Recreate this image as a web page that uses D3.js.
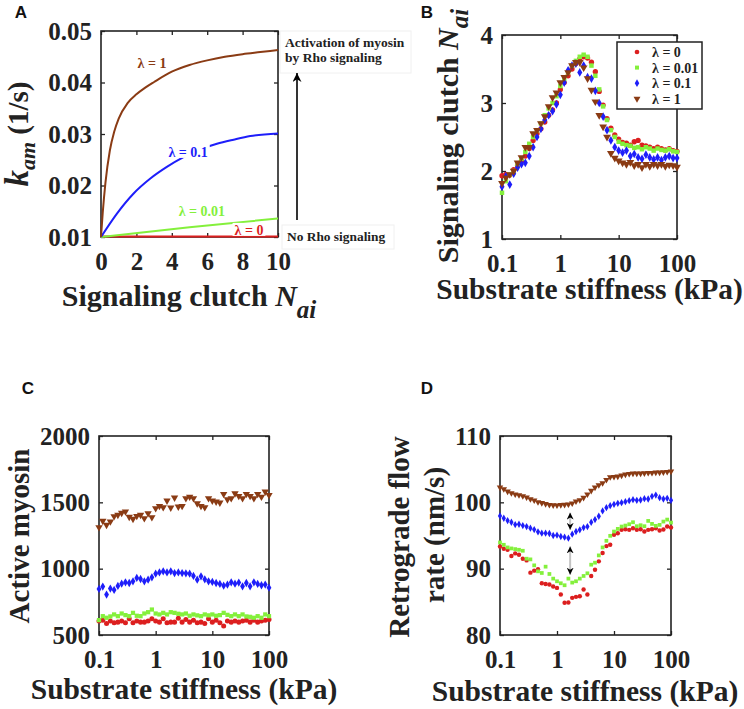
<!DOCTYPE html>
<html>
<head>
<meta charset="utf-8">
<script src="https://cdn.jsdelivr.net/npm/d3@7"></script>
<style>
  body { margin: 0; background: #fff; }
  svg text { font-family: "Liberation Serif", "Times New Roman", serif; font-weight: bold; fill: #222; }
  svg text.plabel { font-family: "Liberation Sans", Arial, sans-serif; fill: #111; }
</style>
</head>
<body>
<script>
// ---- panel A: k_am vs signaling clutch N_ai ----
var nLam1 = [0, 0.1, 0.25, 0.5, 0.75, 1, 1.5, 2, 2.5, 3, 4, 5, 6, 7, 8, 9, 10];
var kamLam1 = [0.0100, 0.0148, 0.0205, 0.0268, 0.0305, 0.0330, 0.0360, 0.0377, 0.0390, 0.0401, 0.0421, 0.0434, 0.0443, 0.0450, 0.0455, 0.0459, 0.0463];
var nLam01 = [0, 0.89, 1.83, 2.77, 3.72, 4.66, 5.6, 6.55, 7.49, 8.43, 10];
var kamLam01 = [0.0100, 0.0145, 0.0184, 0.0213, 0.0236, 0.0255, 0.0270, 0.0281, 0.0289, 0.0296, 0.0301];
var nLam001 = [0, 5, 10];
var kamLam001 = [0.0100, 0.0119, 0.0136];
var nLam0 = [0, 10];
var kamLam0 = [0.0101, 0.0101];

var lambdaLabels = ["\u03bb = 0", "\u03bb = 0.01", "\u03bb = 0.1", "\u03bb = 1"];

// ---- substrate stiffness grid (kPa) shared by B, C, D ----
var stiffness = [0.1, 0.1166, 0.1359, 0.1585, 0.1848, 0.2154, 0.2512, 0.2929, 0.3415, 0.3981,
  0.4642, 0.5412, 0.631, 0.7356, 0.8577, 1, 1.166, 1.359, 1.585, 1.848,
  2.154, 2.512, 2.929, 3.415, 3.981, 4.642, 5.412, 6.31, 7.356, 8.577,
  10, 11.66, 13.59, 15.85, 18.48, 21.54, 25.12, 29.29, 34.15, 39.81,
  46.42, 54.12, 63.1, 73.56, 85.77, 100];

// ---- panel B: signaling clutch N_ai ----
var clutchLam0 = [1.93, 1.95, 1.94, 2.02, 2.08, 2.15, 2.22, 2.33, 2.45, 2.55, 2.62, 2.72, 2.82, 2.90, 3.0, 3.2, 3.3, 3.4, 3.5, 3.58, 3.65, 3.68,
  3.66, 3.6, 3.46, 3.17, 2.97, 2.77, 2.63, 2.53, 2.47,
  2.42, 2.41, 2.38, 2.43, 2.45, 2.38, 2.37, 2.35, 2.33, 2.35, 2.33, 2.31, 2.33, 2.30, 2.29];
var clutchLam001 = [1.68, 1.85, 1.95, 2.0, 2.1, 2.18, 2.28, 2.4, 2.5, 2.6, 2.7, 2.82, 2.92, 3.0, 3.1, 3.25, 3.35, 3.45, 3.55, 3.62, 3.68, 3.71,
  3.68, 3.55, 3.4, 3.2, 2.95, 2.75, 2.6, 2.5, 2.43,
  2.4, 2.38, 2.37, 2.34, 2.35, 2.32, 2.35, 2.33, 2.3, 2.33, 2.31, 2.3, 2.32, 2.29, 2.28];
var clutchLam01 = [1.77, 1.92, 1.8, 1.96, 2.05, 2.1, 2.12, 2.22, 2.35, 2.5, 2.62, 2.75, 2.82, 2.88, 2.98, 3.12, 3.3, 3.48, 3.55, 3.58, 3.45, 3.55,
  3.38, 3.36, 3.18, 3.0, 2.8, 2.6, 2.45, 2.35, 2.3,
  2.27, 2.3, 2.22, 2.25, 2.2, 2.18, 2.24, 2.2, 2.17, 2.2, 2.16, 2.2, 2.22, 2.19, 2.19];
var clutchLam1 = [1.82, 1.9, 1.95, 2.0, 2.12, 2.2, 2.35, 2.35, 2.55, 2.6, 2.7, 2.8, 2.95, 3.08, 3.15, 3.3, 3.38, 3.45, 3.55, 3.6, 3.6, 3.52,
  3.36, 3.19, 3.02, 2.82, 2.65, 2.5, 2.26, 2.19, 2.15,
  2.12, 2.1, 2.13, 2.08, 2.1, 2.05, 2.1, 2.07, 2.1, 2.08, 2.1, 2.07, 2.09, 2.08, 2.06];

// ---- panel C: active myosin ----
var myosinLam0 = [605, 612, 587, 605, 592, 597, 605, 592, 622, 592, 605, 597, 597, 605, 622, 605, 597, 622, 592, 597, 597, 627, 597,
  617, 597, 612, 592, 597, 587, 622, 597, 612, 592, 567, 605, 597, 605, 597, 605, 612, 597, 612, 597, 605, 612, 617];
var myosinLam001 = [612, 642, 630, 640, 655, 642, 662, 650, 642, 667, 645, 642, 662, 672, 692, 662, 655, 667, 655, 672, 667, 660, 655,
  662, 645, 655, 648, 642, 655, 648, 655, 645, 650, 667, 652, 642, 655, 642, 655, 640, 637, 630, 642, 630, 655, 642];
var myosinLam01 = [847, 865, 805, 850, 840, 870, 887, 897, 892, 905, 930, 922, 905, 917, 935, 962, 972, 980, 972, 980, 967, 972, 967,
  965, 962, 945, 917, 942, 920, 905, 900, 892, 885, 872, 880, 897, 887, 895, 867, 892, 867, 897, 885, 875, 880, 857];
var myosinLam1 = [1312, 1360, 1330, 1355, 1395, 1405, 1420, 1430, 1390, 1375, 1397, 1405, 1380, 1417, 1387, 1455, 1472, 1462, 1512, 1460, 1535, 1467, 1472,
  1530, 1542, 1530, 1492, 1472, 1462, 1530, 1512, 1505, 1497, 1562, 1522, 1530, 1567, 1547, 1530, 1562, 1547, 1530, 1562, 1542, 1580, 1555];

// ---- panel D: retrograde flow rate (nm/s) ----
var flowLam0 = [93.35, 93.0, 92.85, 91.9, 92.3, 92.1, 91.5, 91.25, 89.4, 89.7, 89.9, 87.8, 87.7, 87.6, 87.3, 87.1, 86.1, 84.85, 84.9, 85.6, 85.75, 85.85, 86.85,
  86.1, 88.9, 89.85, 91.1, 92.35, 93.4, 93.6, 95.1, 95.35, 95.85, 95.95, 95.85, 96.1, 95.85, 95.95, 95.6, 95.85, 95.95, 96.1, 95.75, 95.9, 96.35, 96.2];
var flowLam001 = [93.95, 93.6, 93.2, 93.05, 92.95, 92.85, 92.7, 91.5, 91.4, 90.5, 89.6, 89.35, 90.3, 89.2, 88.5, 88.1, 87.8, 87.5, 88.5, 87.9, 88.1, 88.5, 88.9,
  89.3, 90.6, 90.9, 92.0, 93.2, 94.2, 94.95, 95.6, 96.0, 96.35, 96.5, 96.7, 97.0, 96.4, 96.55, 96.4, 97.2, 96.75, 96.45, 96.6, 97.1, 97.4, 96.95];
var flowLam01 = [97.95, 97.6, 97.25, 97.0, 96.65, 96.7, 96.5, 96.35, 96.1, 95.9, 95.55, 95.35, 95.35, 95.3, 95.0, 95.05, 94.85, 94.75, 94.6, 95.2, 95.6, 95.85, 96.2,
  96.35, 97.0, 97.4, 97.9, 98.7, 99.2, 99.5, 99.7, 99.85, 99.95, 100.1, 100.25, 100.4, 100.3, 100.35, 100.55, 100.5, 100.9, 101.1, 100.7, 100.5, 100.6, 100.3];
var flowLam1 = [102.25, 102.0, 101.65, 101.4, 101.2, 101.1, 100.95, 100.75, 100.5, 100.3, 100.05, 99.9, 99.75, 99.62, 99.57, 99.56, 99.6, 99.64, 99.7, 99.85, 100.15, 100.35, 100.7,
  101.2, 101.75, 102.25, 102.6, 102.9, 103.4, 103.8, 103.85, 103.9, 104.05, 104.2, 104.3, 104.35, 104.35, 104.35, 104.4, 104.45, 104.45, 104.5, 104.5, 104.55, 104.6, 104.65];

var seriesColors = ["#dc1f1f", "#84f03c", "#1e1efa", "#8a3b14"];
var seriesShapes = [d3.symbolCircle, d3.symbolSquare, d3.symbolDiamond, d3.symbolTriangle];
var seriesSizes = [22, 20, 22, 26];

var svg = d3.select("body").append("svg").attr("width", 744).attr("height", 709);

// arrow heads: big one for panel A, small one for the gap arrows of D
var defs = svg.append("defs");
[["headBig", 10, 9], ["headSmall", 7, 7]].forEach(m => {
  defs.append("marker").attr("id", m[0]).attr("viewBox", "0 0 10 10")
    .attr("refX", 10).attr("refY", 5).attr("markerWidth", m[1]).attr("markerHeight", m[2])
    .attr("markerUnits", "userSpaceOnUse").attr("orient", "auto-start-reverse")
    .append("path").attr("d", "M0,0 L10,5 L0,10 L3,5 Z").attr("fill", "#000");
});

// draws a MATLAB-like boxed axes with inward ticks on all sides
function drawAxes(box, x, y, xTicks, yTicks, xFmt, yFmt) {
  var g = svg.append("g");
  g.append("g").attr("transform", `translate(0,${box.bottom})`)
    .call(d3.axisBottom(x).tickValues(xTicks).tickFormat(xFmt).tickSize(-4).tickPadding(15));
  g.append("g").attr("transform", `translate(0,${box.top})`)
    .call(d3.axisTop(x).tickValues(xTicks).tickFormat("").tickSize(-4));
  g.append("g").attr("transform", `translate(${box.left},0)`)
    .call(d3.axisLeft(y).tickValues(yTicks).tickFormat(yFmt).tickSize(-4).tickPadding(9));
  g.append("g").attr("transform", `translate(${box.right},0)`)
    .call(d3.axisRight(y).tickValues(yTicks).tickFormat("").tickSize(-4));
  g.selectAll(".domain").remove();
  g.selectAll(".tick line").attr("stroke", "#222").attr("stroke-width", 1.3);
  g.selectAll(".tick text").attr("font-size", 25);
  g.append("rect")
    .attr("x", box.left).attr("y", box.top)
    .attr("width", box.right - box.left).attr("height", box.bottom - box.top)
    .attr("fill", "none").attr("stroke", "#222").attr("stroke-width", 1.6);
  return g;
}

function scatter(x, y, values, k, scale) {
  svg.append("g").selectAll("path").data(values).enter()
    .append("path")
    .attr("d", d3.symbol().type(seriesShapes[k]).size(seriesSizes[k] * scale))
    .attr("transform", (d, i) => `translate(${x(stiffness[i])},${y(d)})` + (k == 3 ? " rotate(180)" : ""))
    .attr("fill", seriesColors[k]);
}

function panelLabel(txt, px, py) {
  svg.append("text").attr("class", "plabel").attr("x", px).attr("y", py)
    .attr("font-size", 17).attr("text-anchor", "middle").attr("dy", "0.35em").text(txt);
}

function xLabelStiffness(cx, baseline) {
  svg.append("text").attr("x", cx).attr("y", baseline).attr("text-anchor", "middle")
    .attr("font-size", 29.5).text("Substrate stiffness (kPa)");
}

// ================= Panel A =================
var boxA = {left: 101, right: 278, top: 31, bottom: 237};
var xA = d3.scaleLinear().domain([0, 10]).range([boxA.left, boxA.right]);
var yA = d3.scaleLinear().domain([0.01, 0.05]).range([boxA.bottom, boxA.top]);
drawAxes(boxA, xA, yA, [0, 2, 4, 6, 8, 10], [0.01, 0.02, 0.03, 0.04, 0.05], d3.format("d"), d3.format(".2f"));

var lineA = d3.line().x(d => xA(d[0])).y(d => yA(d[1])).curve(d3.curveMonotoneX);
[[nLam0, kamLam0], [nLam001, kamLam001], [nLam01, kamLam01], [nLam1, kamLam1]].forEach((s, k) => {
  svg.append("path").datum(d3.zip(s[0], s[1])).attr("d", lineA)
    .attr("fill", "none").attr("stroke", seriesColors[k]).attr("stroke-width", 2);
});

// curve labels sit on small white boxes (like MATLAB text with a background)
var curveLabelPos = [[8.36, 0.01136], [5.7, 0.0150], [4.92, 0.0265], [2.88, 0.0438]];
curveLabelPos.forEach((p, k) => {
  var t = svg.append("text").attr("x", xA(p[0])).attr("y", yA(p[1])).attr("dy", "0.35em")
    .attr("text-anchor", "middle").attr("font-size", 14).style("fill", seriesColors[k])
    .text(lambdaLabels[k]);
  var bb = t.node().getBBox();
  svg.insert("rect", function () { return t.node(); })
    .attr("x", bb.x - 2).attr("y", bb.y).attr("width", bb.width + 4).attr("height", bb.height - 2)
    .attr("fill", "#fff");
});

// annotations right of panel A
svg.append("rect").attr("x", 280).attr("y", 31).attr("width", 131).attr("height", 42)
  .attr("fill", "#fff").attr("stroke", "#f0f0f0");
svg.append("rect").attr("x", 282).attr("y", 225).attr("width", 112).attr("height", 24)
  .attr("fill", "#fff").attr("stroke", "#f0f0f0");
svg.append("text").attr("x", 285).attr("y", 47).attr("font-size", 13.5).text("Activation of myosin");
svg.append("text").attr("x", 285).attr("y", 62).attr("font-size", 13.5).text("by Rho signaling");
svg.append("text").attr("x", 287).attr("y", 241).attr("font-size", 13.4).text("No Rho signaling");
svg.append("line").attr("x1", 297).attr("x2", 297).attr("y1", 220).attr("y2", 73)
  .attr("stroke", "#000").attr("stroke-width", 1.6).attr("marker-end", "url(#headBig)");

// axis titles A
var yTitleA = svg.append("text").attr("transform", "translate(28,134) rotate(-90)").attr("text-anchor", "middle");
yTitleA.append("tspan").attr("font-style", "italic").attr("font-size", 33).text("k");
yTitleA.append("tspan").attr("font-style", "italic").attr("font-size", 22).attr("dy", 7).text("am");
yTitleA.append("tspan").attr("font-size", 29).attr("dy", -7).text(" (1/s)");

var xTitleA = svg.append("text").attr("x", 189).attr("y", 306).attr("text-anchor", "middle").attr("font-size", 30);
xTitleA.append("tspan").text("Signaling clutch ");
xTitleA.append("tspan").attr("font-style", "italic").text("N");
xTitleA.append("tspan").attr("font-style", "italic").attr("font-size", 25).attr("dy", 12).text("ai");

panelLabel("A", 21, 12);

// ================= Panel B =================
var boxB = {left: 502, right: 677, top: 35, bottom: 239};
var xB = d3.scaleLog().domain([0.1, 100]).range([boxB.left, boxB.right]);
var yB = d3.scaleLinear().domain([1, 4]).range([boxB.bottom, boxB.top]);
drawAxes(boxB, xB, yB, [0.1, 1, 10, 100], [1, 2, 3, 4], d => d, d3.format("d"));
[clutchLam0, clutchLam001, clutchLam01, clutchLam1].forEach((vals, k) => scatter(xB, yB, vals, k, 1));

// legend
var legB = svg.append("g");
legB.append("rect").attr("x", 617).attr("y", 42).attr("width", 85).attr("height", 67)
  .attr("fill", "#fff").attr("stroke", "#222").attr("stroke-width", 1.5);
lambdaLabels.forEach((lab, k) => {
  var ly = 52 + k * 15.6;
  legB.append("path").attr("d", d3.symbol().type(seriesShapes[k]).size(seriesSizes[k] * 0.8))
    .attr("transform", `translate(637,${ly})` + (k == 3 ? " rotate(180)" : ""))
    .attr("fill", seriesColors[k]);
  legB.append("text").attr("x", 652).attr("y", ly).attr("dy", "0.35em").attr("font-size", 14).text(lab);
});

var yTitleB = svg.append("text").attr("transform", "translate(458,136) rotate(-90)")
  .attr("text-anchor", "middle").attr("font-size", 30);
yTitleB.append("tspan").text("Signaling clutch ");
yTitleB.append("tspan").attr("font-style", "italic").text("N");
yTitleB.append("tspan").attr("font-style", "italic").attr("font-size", 25).attr("dy", 10).text("ai");
xLabelStiffness(589.5, 299);
panelLabel("B", 427, 12);

// ================= Panel C =================
var boxC = {left: 99, right: 269, top: 436, bottom: 635};
var xC = d3.scaleLog().domain([0.1, 100]).range([boxC.left, boxC.right]);
var yC = d3.scaleLinear().domain([500, 2000]).range([boxC.bottom, boxC.top]);
drawAxes(boxC, xC, yC, [0.1, 1, 10, 100], [500, 1000, 1500, 2000], d => d, d3.format("d"));
[myosinLam0, myosinLam001, myosinLam01, myosinLam1].forEach((vals, k) => scatter(xC, yC, vals, k, 0.9));
svg.append("text").attr("transform", "translate(29,536) rotate(-90)").attr("text-anchor", "middle")
  .attr("font-size", 29).text("Active myosin");
xLabelStiffness(184, 699);
panelLabel("C", 28, 388);

// ================= Panel D =================
var boxD = {left: 500, right: 671, top: 436, bottom: 635};
var xD = d3.scaleLog().domain([0.1, 100]).range([boxD.left, boxD.right]);
var yD = d3.scaleLinear().domain([80, 110]).range([boxD.bottom, boxD.top]);
drawAxes(boxD, xD, yD, [0.1, 1, 10, 100], [80, 90, 100, 110], d => d, d3.format("d"));
[flowLam0, flowLam001, flowLam01, flowLam1].forEach((vals, k) => scatter(xD, yD, vals, k, 0.7));

// double arrows showing the gaps between series
var gapArrows = [[1.7, 98.45, 95.85], [1.7, 93.35, 89.1]];
gapArrows.forEach(a => {
  svg.append("line").attr("x1", xD(a[0])).attr("x2", xD(a[0]))
    .attr("y1", yD(a[2])).attr("y2", yD(a[1]))
    .attr("stroke", "#c4c4c4").attr("stroke-width", 2)
    .attr("marker-start", "url(#headSmall)").attr("marker-end", "url(#headSmall)");
});

svg.append("text").attr("transform", "translate(409,537) rotate(-90)").attr("text-anchor", "middle")
  .attr("font-size", 29).text("Retrograde flow");
svg.append("text").attr("transform", "translate(444,535) rotate(-90)").attr("text-anchor", "middle")
  .attr("font-size", 29).text("rate (nm/s)");
xLabelStiffness(585, 701);
panelLabel("D", 427, 388);
</script>
</body>
</html>
